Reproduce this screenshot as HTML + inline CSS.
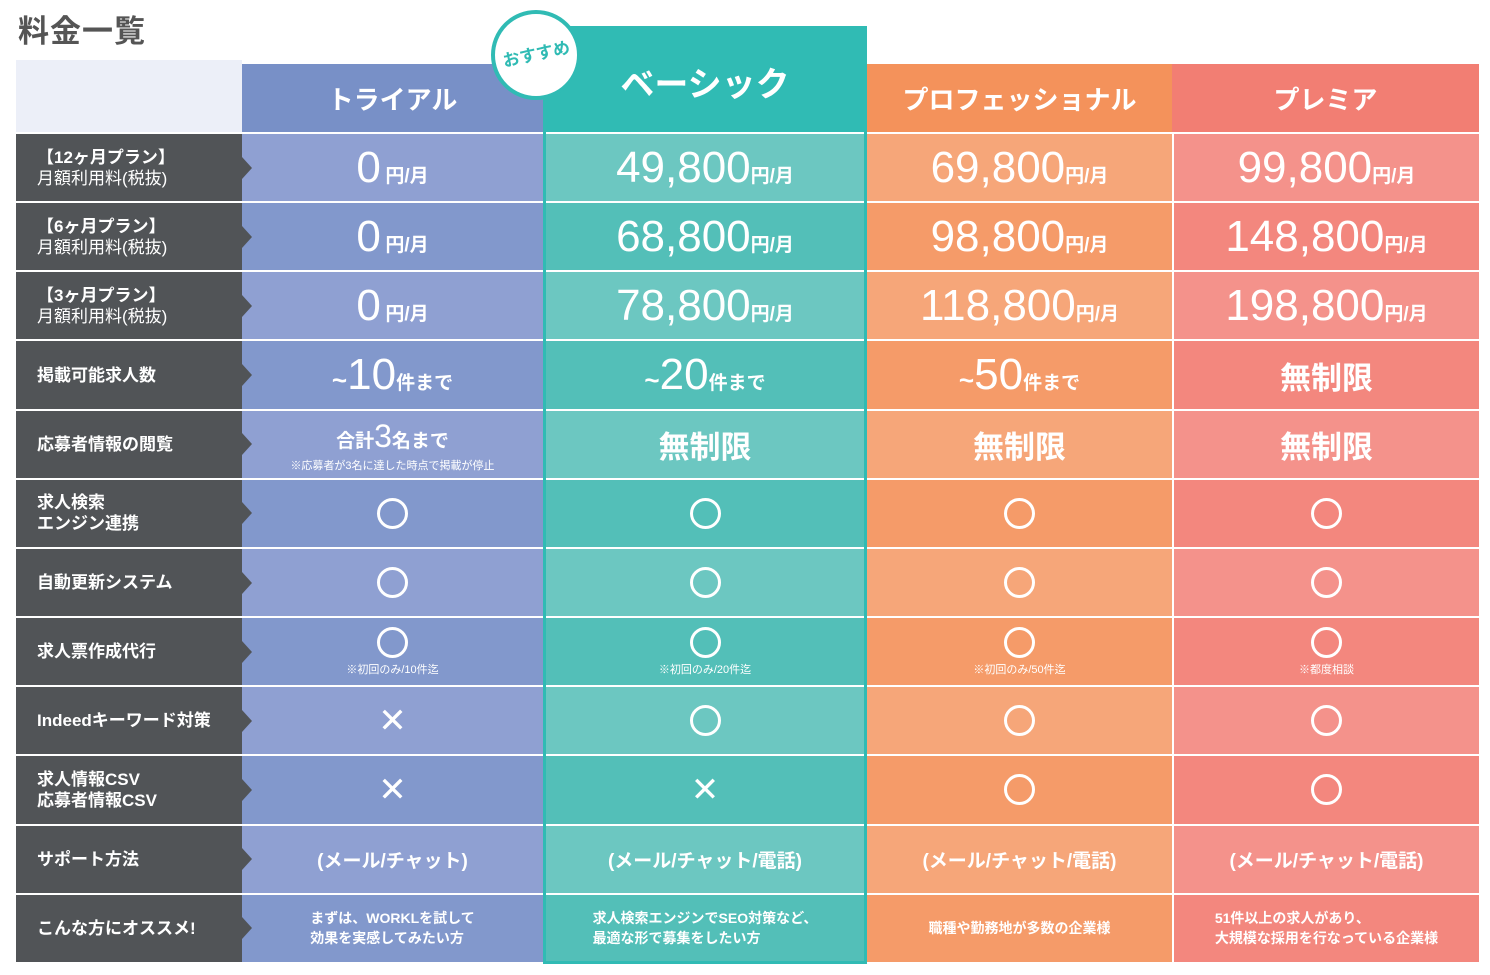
<!DOCTYPE html>
<html><head><meta charset="utf-8"><style>
*{margin:0;padding:0;box-sizing:border-box}
body{width:1490px;height:975px;background:#fff;position:relative;overflow:hidden;font-family:"Liberation Sans","Noto Sans CJK JP",sans-serif;color:#fff}
.title{position:absolute;left:18px;top:6px;font-size:31px;font-weight:bold;color:#555;letter-spacing:1px}
.col{position:absolute;top:132px}
.cell{height:69.17px;border-top:2px solid #fff;display:flex;flex-direction:column;align-items:center;justify-content:center;position:relative;text-align:center;font-weight:bold}
.lab .cell{align-items:flex-start;padding-left:21px;background:#515457;font-size:17px;line-height:21px;text-align:left}
.lab .cell:after{content:"";position:absolute;right:-10px;top:50%;margin-top:-11px;border-left:10px solid #515457;border-top:11px solid transparent;border-bottom:11px solid transparent;z-index:3}
.lab .cell .n{font-weight:normal}
.hd{position:absolute;display:flex;align-items:center;justify-content:center;font-weight:bold;font-size:26px}
.big{font-size:44px;font-weight:normal;line-height:42px}
.u{font-size:19px;font-weight:bold}
.o{width:31px;height:31px;border:3px solid #fff;border-radius:50%}
.x{font-size:34px;font-weight:normal;line-height:34px}
.note{font-size:11px;font-weight:normal;margin-top:3px}
.t{font-size:14px;line-height:20px;text-align:left}
.sup{font-size:26px}
.mu{font-size:31px}
</style></head><body>
<div class="title">料金一覧</div>
<div class="hd" style="left:16px;top:60px;width:226px;height:72px;background:#eceff8"></div>
<div class="hd" style="left:242px;top:64px;width:301px;height:68px;background:#7890c7">トライアル</div>
<div class="hd" style="left:543px;top:26px;width:324px;height:106px;background:#30bbb4;font-size:34px;padding-top:4px">ベーシック</div>
<div class="hd" style="left:867px;top:64px;width:305px;height:68px;background:#f4925b">プロフェッショナル</div>
<div class="hd" style="left:1172px;top:64px;width:307px;height:68px;background:#f27e73">プレミア</div>

<div class="col lab" style="left:16px;width:226px;z-index:2">
<div class="cell">【12ヶ月プラン】<span class="n">月額利用料(税抜)</span></div>
<div class="cell">【6ヶ月プラン】<span class="n">月額利用料(税抜)</span></div>
<div class="cell">【3ヶ月プラン】<span class="n">月額利用料(税抜)</span></div>
<div class="cell">掲載可能求人数</div>
<div class="cell">応募者情報の閲覧</div>
<div class="cell">求人検索<br>エンジン連携</div>
<div class="cell">自動更新システム</div>
<div class="cell">求人票作成代行</div>
<div class="cell">Indeedキーワード対策</div>
<div class="cell">求人情報CSV<br>応募者情報CSV</div>
<div class="cell">サポート方法</div>
<div class="cell">こんな方にオススメ!</div>
</div>

<div class="col" style="left:242px;width:301px">
<div class="cell" style="background:#8fa0d2"><div><span class="big">0</span> <span class="u">円/月</span></div></div>
<div class="cell" style="background:#8298cc"><div><span class="big">0</span> <span class="u">円/月</span></div></div>
<div class="cell" style="background:#8fa0d2"><div><span class="big">0</span> <span class="u">円/月</span></div></div>
<div class="cell" style="background:#8298cc"><div><span class="sup">~</span><span class="big">10</span><span class="u">件まで</span></div></div>
<div class="cell" style="background:#8fa0d2"><div><span class="u">合計</span><span class="big" style="font-size:32px">3</span><span class="u">名まで</span></div><div class="note" style="margin-top:0">※応募者が3名に達した時点で掲載が停止</div></div>
<div class="cell" style="background:#8298cc"><div class="o"></div></div>
<div class="cell" style="background:#8fa0d2"><div class="o"></div></div>
<div class="cell" style="background:#8298cc"><div class="o"></div><div class="note">※初回のみ/10件迄</div></div>
<div class="cell" style="background:#8fa0d2"><div class="x">✕</div></div>
<div class="cell" style="background:#8298cc"><div class="x">✕</div></div>
<div class="cell" style="background:#8fa0d2;font-size:19px">(メール/チャット)</div>
<div class="cell" style="background:#8298cc"><div class="t">まずは、WORKLを試して<br>効果を実感してみたい方</div></div>
</div>

<div class="col" style="left:543px;width:324px;border:3px solid #30bbb4;border-top:none;top:132px;height:832px;display:flex;flex-direction:column">
<div class="cell" style="background:#6cc7c1"><div><span class="big">49,800</span><span class="u">円/月</span></div></div>
<div class="cell" style="background:#53bfb8"><div><span class="big">68,800</span><span class="u">円/月</span></div></div>
<div class="cell" style="background:#6cc7c1"><div><span class="big">78,800</span><span class="u">円/月</span></div></div>
<div class="cell" style="background:#53bfb8"><div><span class="sup">~</span><span class="big">20</span><span class="u">件まで</span></div></div>
<div class="cell" style="background:#6cc7c1"><span class="mu">無制限</span></div>
<div class="cell" style="background:#53bfb8"><div class="o"></div></div>
<div class="cell" style="background:#6cc7c1"><div class="o"></div></div>
<div class="cell" style="background:#53bfb8"><div class="o"></div><div class="note">※初回のみ/20件迄</div></div>
<div class="cell" style="background:#6cc7c1"><div class="o"></div></div>
<div class="cell" style="background:#53bfb8"><div class="x">✕</div></div>
<div class="cell" style="background:#6cc7c1;font-size:19px">(メール/チャット/電話)</div>
<div class="cell" style="background:#53bfb8;flex:1"><div class="t">求人検索エンジンでSEO対策など、<br>最適な形で募集をしたい方</div></div>
</div>

<div class="col" style="left:867px;width:305px">
<div class="cell" style="background:#f6a679"><div><span class="big">69,800</span><span class="u">円/月</span></div></div>
<div class="cell" style="background:#f59b69"><div><span class="big">98,800</span><span class="u">円/月</span></div></div>
<div class="cell" style="background:#f6a679"><div><span class="big">118,800</span><span class="u">円/月</span></div></div>
<div class="cell" style="background:#f59b69"><div><span class="sup">~</span><span class="big">50</span><span class="u">件まで</span></div></div>
<div class="cell" style="background:#f6a679"><span class="mu">無制限</span></div>
<div class="cell" style="background:#f59b69"><div class="o"></div></div>
<div class="cell" style="background:#f6a679"><div class="o"></div></div>
<div class="cell" style="background:#f59b69"><div class="o"></div><div class="note">※初回のみ/50件迄</div></div>
<div class="cell" style="background:#f6a679"><div class="o"></div></div>
<div class="cell" style="background:#f59b69"><div class="o"></div></div>
<div class="cell" style="background:#f6a679;font-size:19px">(メール/チャット/電話)</div>
<div class="cell" style="background:#f59b69"><div class="t">職種や勤務地が多数の企業様</div></div>
</div>

<div class="col" style="left:1172px;width:307px;border-left:2px solid #fff">
<div class="cell" style="background:#f4928b"><div><span class="big">99,800</span><span class="u">円/月</span></div></div>
<div class="cell" style="background:#f3877e"><div><span class="big">148,800</span><span class="u">円/月</span></div></div>
<div class="cell" style="background:#f4928b"><div><span class="big">198,800</span><span class="u">円/月</span></div></div>
<div class="cell" style="background:#f3877e"><span class="mu">無制限</span></div>
<div class="cell" style="background:#f4928b"><span class="mu">無制限</span></div>
<div class="cell" style="background:#f3877e"><div class="o"></div></div>
<div class="cell" style="background:#f4928b"><div class="o"></div></div>
<div class="cell" style="background:#f3877e"><div class="o"></div><div class="note">※都度相談</div></div>
<div class="cell" style="background:#f4928b"><div class="o"></div></div>
<div class="cell" style="background:#f3877e"><div class="o"></div></div>
<div class="cell" style="background:#f4928b;font-size:19px">(メール/チャット/電話)</div>
<div class="cell" style="background:#f3877e"><div class="t">51件以上の求人があり、<br>大規模な採用を行なっている企業様</div></div>
</div>

<div style="position:absolute;left:491px;top:10px;width:90px;height:90px;border-radius:50%;background:#fff;border:4px solid #30bbb4;display:flex;align-items:center;justify-content:center;color:#30bbb4;font-weight:bold;font-size:17px;z-index:5"><span style="transform:rotate(-12deg);display:inline-block;margin-top:-6px">おすすめ</span></div>
</body></html>
